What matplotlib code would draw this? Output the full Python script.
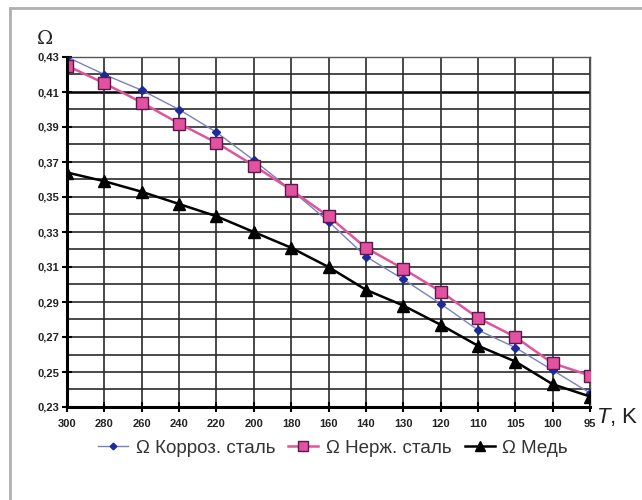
import matplotlib
matplotlib.use("Agg")
import matplotlib.pyplot as plt
from matplotlib.lines import Line2D
import numpy as np

temps = ["300", "280", "260", "240", "220", "200", "180", "160", "140", "130", "120", "110", "105", "100", "95"]
corr_steel = [0.430, 0.420, 0.411, 0.400, 0.387, 0.371, 0.354, 0.336, 0.316, 0.303, 0.289, 0.274, 0.264, 0.251, 0.238]
stainless = [0.425, 0.415, 0.404, 0.392, 0.381, 0.368, 0.354, 0.339, 0.321, 0.309, 0.296, 0.281, 0.270, 0.255, 0.248]
copper = [0.364, 0.359, 0.353, 0.346, 0.339, 0.330, 0.321, 0.310, 0.297, 0.288, 0.277, 0.265, 0.256, 0.243, 0.236]
y_ticks = [0.23, 0.25, 0.27, 0.29, 0.31, 0.33, 0.35, 0.37, 0.39, 0.41, 0.43]
labels = ["\u03a9 Корроз. сталь", "\u03a9 Нерж. сталь", "\u03a9 Медь"]

plt.rcParams['font.family'] = ['Liberation Sans', 'DejaVu Sans']
plt.rcParams['mathtext.fontset'] = 'custom'
plt.rcParams['mathtext.it'] = 'Liberation Sans:italic'
plt.rcParams['mathtext.rm'] = 'Liberation Sans'

fig = plt.figure(figsize=(6.42, 5.0), dpi=100)
ax = fig.add_axes([67/642, 1-407/500, (590-67)/642, (407-57)/500])

x = np.arange(len(temps))

# grid
for yv in np.arange(0.23, 0.4301, 0.01):
    is41 = abs(yv - 0.41) < 1e-6
    ax.axhline(yv, color='black' if is41 else '#2a2a2a', lw=1.8 if is41 else 1.2, zorder=1)
for xv in x:
    ax.axvline(xv, color='#2a2a2a', lw=1.2, zorder=1)

ax.plot(x, corr_steel, color='#7a80c0', lw=1.0, marker='D', markersize=4,
        markerfacecolor='#1c2a9c', markeredgecolor='#1c2a9c', zorder=3, label=labels[0])
ax.plot(x, stainless, color='#e0559a', lw=1.8, marker='s', markersize=8,
        markerfacecolor='#e2529f', markeredgecolor='#5a1850', markeredgewidth=1.0, zorder=4, label=labels[1])
ax.plot(x, copper, color='black', lw=1.8, marker='^', markersize=8,
        markerfacecolor='black', markeredgecolor='black', zorder=5, label=labels[2])

ax.set_xlim(0, len(temps) - 1)
ax.set_ylim(0.23, 0.43)
ax.set_xticks(x)
ax.set_xticklabels(temps)
ax.set_yticks(y_ticks)
ax.set_yticklabels([f"{v:.2f}".replace('.', ',') for v in y_ticks])

for lab in ax.get_xticklabels() + ax.get_yticklabels():
    lab.set_fontfamily(['Liberation Sans Narrow', 'Liberation Sans', 'DejaVu Sans'])
    lab.set_fontweight('bold')
    lab.set_fontsize(8)
    lab.set_color('#222222')

ax.tick_params(axis='both', direction='inout', length=7, width=1.5, color='black')
ax.tick_params(axis='x', pad=5)
ax.tick_params(axis='y', pad=2)

for s in ['left', 'bottom']:
    ax.spines[s].set_linewidth(2.2)
    ax.spines[s].set_color('black')
    ax.spines[s].set_zorder(6)
for s in ['top', 'right']:
    ax.spines[s].set_linewidth(1.0)
    ax.spines[s].set_color('#555555')

fig.text(45/642, 1-39/500, "\u03a9", family=['DejaVu Serif'], fontsize=14, color='#222222', ha='center', va='center')
fig.text(596/642, 1-417/500, r"$T$, K", fontsize=16, color='#222222', ha='left', va='center')

leg = fig.legend(loc='center', bbox_to_anchor=(333/642, 1-448/500), ncol=3, frameon=False,
                 fontsize=13.5, handlelength=1.6, columnspacing=0.7, handletextpad=0.4,
                 markerscale=0.85)
for t in leg.get_texts():
    t.set_color('#333333')

# outer frame
fig.add_artist(Line2D([10/642, 10/642], [0, 1-8/500], transform=fig.transFigure, color='#b0b0b0', lw=2))
fig.add_artist(Line2D([10/642, 1], [1-8/500, 1-8/500], transform=fig.transFigure, color='#b0b0b0', lw=2))

fig.savefig("out.png", dpi=100)
